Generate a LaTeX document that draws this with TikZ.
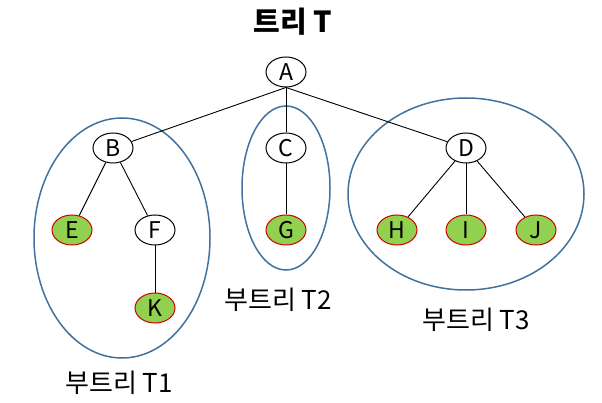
\documentclass[tikz,border=0pt]{standalone}
\usepackage{fontspec}
\setmainfont{Noto Sans CJK KR}
\usetikzlibrary{shapes.geometric}
\begin{document}
\begin{tikzpicture}[x=1pt,y=-1pt,
  vert/.style={draw,ellipse,minimum width=40pt,minimum height=30pt,inner sep=0pt,line width=1pt,font=\fontsize{23}{23}\selectfont},
  leaf/.style={vert,draw=red!80!black,fill=leafgreen},
  sub/.style={draw=subblue,line width=1.5pt},
  lbl/.style={font=\fontsize{26}{26}\selectfont}]
\definecolor{leafgreen}{RGB}{146,208,80}
\definecolor{subblue}{RGB}{65,113,156}
\useasboundingbox (0,0) rectangle (602,403);
\node[font=\bfseries\fontsize{29}{29}\selectfont] (title) at (293,22) {트리 T};
% subtrees
\draw[sub] (122,238) ellipse (88pt and 120pt);
\draw[sub] (286,188) ellipse (44pt and 82pt);
\draw[sub] (466,194) ellipse (118pt and 96pt);
\node[lbl] (t1) at (119,383) {부트리 T1};
\node[lbl] (t2) at (278,300) {부트리 T2};
\node[lbl] (t3) at (476,320) {부트리 T3};
% nodes
\node[vert] (A) at (286,72) {A};
\node[vert] (B) at (113,148) {B};
\node[vert] (C) at (286,148) {C};
\node[vert] (D) at (466,148) {D};
\node[leaf] (E) at (72,230) {E};
\node[vert] (F) at (155,230) {F};
\node[leaf] (G) at (286,230) {G};
\node[leaf] (H) at (397,230) {H};
\node[leaf] (I) at (466,230) {I};
\node[leaf] (J) at (536,230) {J};
\node[leaf] (K) at (155,308) {K};
\foreach \c in {B,C,D}
  \draw[line width=0.9pt] (A.south) -- (\c);
\draw[line width=0.9pt] (B) -- (E);
\draw[line width=0.9pt] (B) -- (F);
\draw[line width=0.9pt] (F) -- (K);
\draw[line width=0.9pt] (C) -- (G);
\foreach \c in {H,I,J}
  \draw[line width=0.9pt] (D) -- (\c);
\end{tikzpicture}
\end{document}
